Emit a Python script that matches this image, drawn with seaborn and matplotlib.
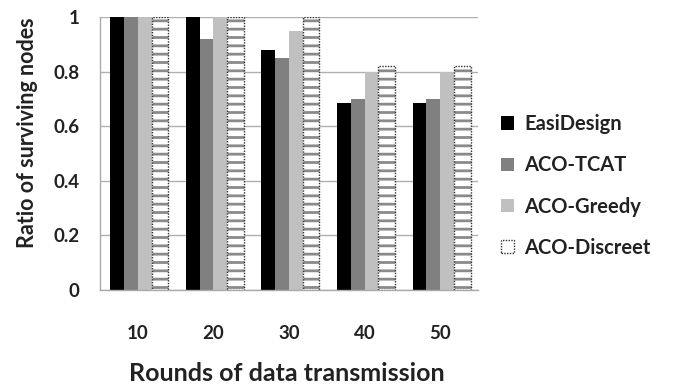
import matplotlib
matplotlib.use("Agg")
import matplotlib.pyplot as plt
import matplotlib.colors as mcolors
import seaborn as sns
import pandas as pd
import numpy as np

rounds = ["10", "20", "30", "40", "50"]
series = ["EasiDesign", "ACO-TCAT", "ACO-Greedy", "ACO-Discreet"]
easidesign = [1.0, 1.0, 0.88, 0.685, 0.685]
aco_tcat = [1.0, 0.92, 0.85, 0.70, 0.70]
aco_greedy = [1.0, 1.0, 0.95, 0.80, 0.80]
aco_discreet = [1.0, 1.0, 1.0, 0.82, 0.82]
colors = ["#000000", "#808080", "#c0c0c0", "#ffffff"]

rows = []
for name, vals in zip(series, [easidesign, aco_tcat, aco_greedy, aco_discreet]):
    for r, v in zip(rounds, vals):
        rows.append({"Round": r, "Method": name, "Value": v})
df = pd.DataFrame(rows)

sns.set_style("white")
plt.rcParams['font.family'] = ['Lato', 'DejaVu Sans']
plt.rcParams['hatch.linewidth'] = 2.0

fig = plt.figure(figsize=(6.73, 3.88), dpi=100)
ax = fig.add_axes([100/673, 1-290/388, 378/673, 273/388])

sns.barplot(data=df, x="Round", y="Value", hue="Method", order=rounds,
            hue_order=series, palette=colors, width=0.73, gap=0,
            saturation=1, linewidth=0, ax=ax, legend=True)

def style_discreet(p, hatch=True):
    p.set_edgecolor('#303030')
    p.set_linestyle((0, (1, 1)))
    p.set_linewidth(1.0)
    if hatch:
        p.set_hatch('--')
        p._hatch_color = mcolors.to_rgba('#8a8a8a')

for bar in ax.containers[3]:
    style_discreet(bar)
    bar.set_width(bar.get_width() * 1.2)

ax.set_ylim(0, 1)
ax.set_xlim(-0.5, 4.5)
ax.set_yticks([0, 0.2, 0.4, 0.6, 0.8, 1.0])
ax.set_yticklabels(["0", "0.2", "0.4", "0.6", "0.8", "1"], fontsize=13.5, fontweight='bold', color='#222222')
ax.tick_params(axis='x', which='major', length=0, labelsize=13.5, pad=25, labelcolor='#222222')
for t in ax.get_xticklabels():
    t.set_fontweight('bold')
ax.set_xticks(np.arange(-0.5, 5.0, 1.0), minor=True)
ax.tick_params(axis='x', which='minor', length=5, color='#aaaaaa', direction='out')
ax.tick_params(axis='y', which='major', length=5.5, color='#aaaaaa', direction='out', pad=9)

ax.yaxis.grid(True, color='#b0b0b0', linewidth=1.0)
ax.set_axisbelow(True)
for s in ['top', 'right']:
    ax.spines[s].set_visible(False)
for s in ['left', 'bottom']:
    ax.spines[s].set_color('#aaaaaa')
    ax.spines[s].set_linewidth(1.0)

ax.set_xlabel("Rounds of data transmission", fontsize=18, fontweight='bold', color='#222222')
ax.xaxis.set_label_coords(0.495, -0.265)
ax.set_ylabel("Ratio of surviving nodes", fontsize=15.5, fontweight='bold', color='#222222')
ax.yaxis.set_label_coords(-0.165, 0.575)

handles, labels = ax.get_legend_handles_labels()
ax.get_legend().remove()
style_discreet(handles[3], hatch=False)
leg = fig.legend(handles, labels, loc='center left', bbox_to_anchor=(483/673, 1-186/388),
                 frameon=False, handlelength=0.65, handleheight=0.65,
                 handletextpad=0.5, labelspacing=1.05, prop={'weight': 'bold', 'size': 14.5})
for t in leg.get_texts():
    t.set_color('#222222')

fig.savefig("out.png", dpi=100)
